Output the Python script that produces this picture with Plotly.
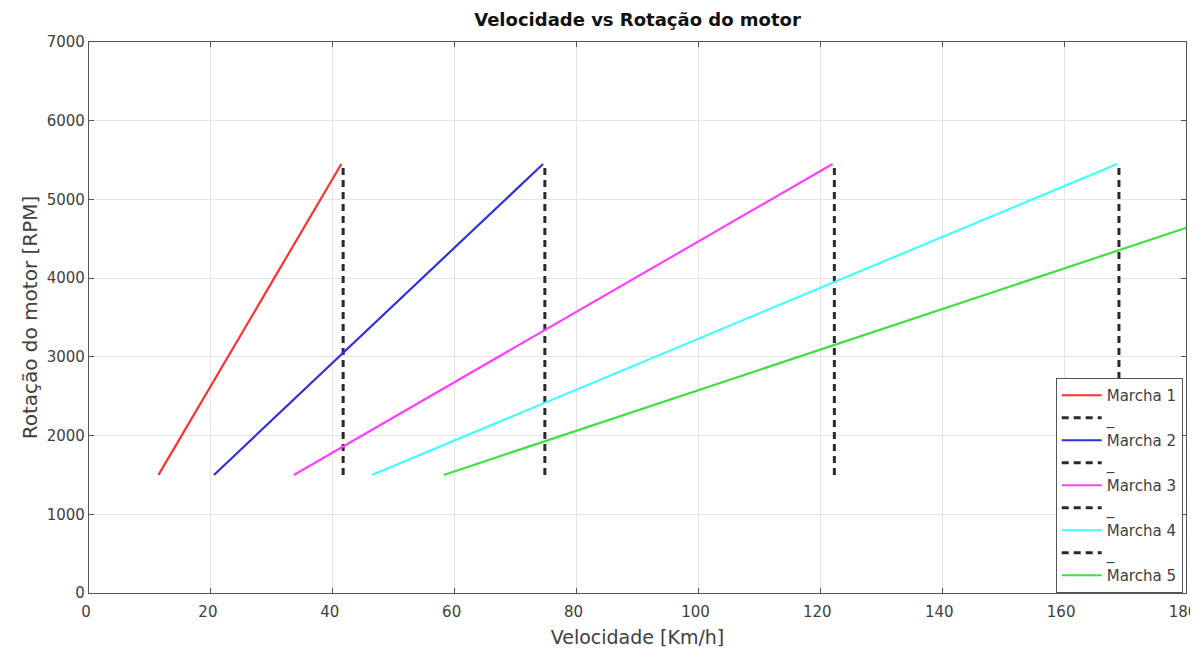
import plotly.graph_objects as go

gear_names = ["Marcha 1", "Marcha 2", "Marcha 3", "Marcha 4", "Marcha 5"]
gear_colors = ["#ff3030", "#3030e0", "#ff40ff", "#40ffff", "#40e040"]
rpm_min = [1500, 1500, 1500, 1500, 1500]
rpm_max = [5450, 5450, 5450, 5450, 5450]
speed_start = [11.4, 20.5, 33.6, 46.4, 58.2]
speed_end = [41.4, 74.5, 122.0, 168.7, 211.5]
shift_speeds = [41.7, 74.8, 122.3, 169.0]
shift_rpm_low = 1500
shift_rpm_high = 5450
dash_label = "_"
x_ticks = [0, 20, 40, 60, 80, 100, 120, 140, 160, 180]
y_ticks = [0, 1000, 2000, 3000, 4000, 5000, 6000, 7000]

font_family = "DejaVu Sans, Liberation Sans, Arial, sans-serif"
text_color = "#404040"

fig = go.Figure()
for i, name in enumerate(gear_names):
    fig.add_trace(go.Scatter(
        x=[speed_start[i], speed_end[i]], y=[rpm_min[i], rpm_max[i]],
        mode="lines", name=name, line=dict(color=gear_colors[i], width=2.2)))
    if i < len(shift_speeds):
        fig.add_trace(go.Scatter(
            x=[shift_speeds[i], shift_speeds[i]], y=[shift_rpm_low, shift_rpm_high],
            mode="lines", name=dash_label,
            line=dict(color="#2a2a2a", width=3, dash="7px,5px")))

axis_common = dict(
    showgrid=True, gridcolor="#e4e4e4", gridwidth=1,
    showline=True, linecolor="#555555", linewidth=1.3, mirror="allticks",
    ticks="inside", ticklen=5, tickcolor="#555555",
    zeroline=False, ticklabeloverflow="allow",
    tickfont=dict(family=font_family, size=15, color=text_color),
)

fig.update_layout(
    width=1190, height=642,
    paper_bgcolor="white", plot_bgcolor="white",
    margin=dict(l=81, r=12, t=34, b=57, autoexpand=False),
    title=dict(text="<b>Velocidade vs Rotação do motor</b>", x=0.5, xref="paper",
               xanchor="center", y=1 - 12 / 642, yanchor="middle",
               font=dict(family=font_family, size=18, color="#111111")),
    xaxis=dict(range=[0, 180], tickvals=x_ticks,
               ticklabelstandoff=5, ticklabelshift=-3,
               title=dict(text="Velocidade [Km/h]", standoff=10,
                          font=dict(family=font_family, size=19, color=text_color)),
               **axis_common),
    yaxis=dict(range=[0, 7000], tickvals=y_ticks,
               title=dict(text="Rotação do motor [RPM]", standoff=3,
                          font=dict(family=font_family, size=20, color=text_color)),
               **axis_common),
    legend=dict(x=0.997, xanchor="right", y=0.0, yanchor="bottom",
                bgcolor="white", bordercolor="#555555", borderwidth=1,
                font=dict(family=font_family, size=15, color=text_color),
                tracegroupgap=0, itemwidth=40),
    showlegend=True,
)

fig.write_html("out.html")
